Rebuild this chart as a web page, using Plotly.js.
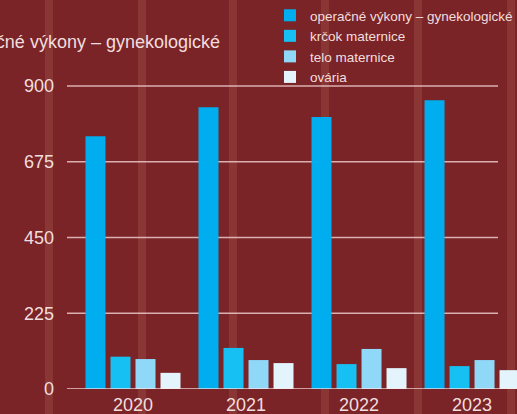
<!DOCTYPE html>
<html>
<head>
<meta charset="utf-8">
<script src="https://cdn.plot.ly/plotly-3.0.1.min.js"></script>
<style>
html,body{margin:0;padding:0;overflow:hidden;background:#7a2428;}
#chart{width:517px;height:414px;}
</style>
</head>
<body>
<div id="chart"></div>
<script>
const years = ['2020', '2021', '2022', '2023'];
const operacne = [751, 837, 808, 858];
const krcok = [96, 122, 74, 68];
const telo = [89, 86, 119, 86];
const ovaria = [48, 77, 62, 56];
const seriesNames = ['operačné výkony – gynekologické', 'krčok maternice', 'telo maternice', 'ovária'];
const seriesColors = ['#00aeef', '#17c0f3', '#8fd8f8', '#e4f4fc'];
const yTicks = [0, 225, 450, 675, 900];

const textColor = '#f1dede';
const font = 'Liberation Sans, Arial, Helvetica, sans-serif';

const seriesData = [operacne, krcok, telo, ovaria];
const traces = seriesData.map((vals, i) => ({
  type: 'bar',
  x: years,
  y: vals,
  name: seriesNames[i],
  marker: {color: seriesColors[i], line: {width: 0}},
  hoverinfo: 'x+y+name'
}));

// subtle vertical light bands from the photographic background
const bandCenters = [49, 142, 233, 325, 418, 511];
const plotL = 67, plotW = 450, gridEnd = 431 / 450;
const shapes = bandCenters.map(c => ({
  type: 'rect', layer: 'below', xref: 'paper', yref: 'paper',
  x0: (c - 4 - plotL) / plotW, x1: (c + 4 - plotL) / plotW,
  y0: -0.2, y1: 1.4,
  fillcolor: 'rgba(190,120,100,0.22)', line: {width: 0}
}));
// horizontal gridlines at the y tick values (stop short of the right edge as in the original)
yTicks.filter(v => v > 0).forEach(v => shapes.push({
  type: 'line', layer: 'below', xref: 'paper', yref: 'y',
  x0: 0, x1: gridEnd, y0: v, y1: v,
  line: {color: 'rgba(255,228,228,0.72)', width: 1.5}
}));
// baseline
shapes.push({
  type: 'line', layer: 'above', xref: 'paper', yref: 'y',
  x0: 0, x1: 1, y0: 0, y1: 0,
  line: {color: 'rgba(255,232,232,0.85)', width: 1.5}
});

const layout = {
  width: 517, height: 414, autosize: false,
  paper_bgcolor: '#7a2428', plot_bgcolor: 'rgba(0,0,0,0)',
  margin: {l: 67, r: 0, t: 83, b: 25, pad: 0, autoexpand: false},
  font: {family: font, color: textColor},
  title: {
    text: 'Operačné výkony – gynekologické',
    font: {family: font, size: 18, color: textColor},
    xref: 'container', yref: 'container',
    x: 220 / 517, xanchor: 'right',
    y: 1 - 42 / 414, yanchor: 'middle'
  },
  barmode: 'group',
  bargap: 0.115,
  bargroupgap: 0.2,
  showlegend: true,
  legend: {
    xref: 'container', yref: 'container',
    x: 270 / 517, xanchor: 'left',
    y: 1 - 0 / 414, yanchor: 'top',
    bgcolor: 'rgba(0,0,0,0)', borderwidth: 0,
    font: {family: font, size: 13.5, color: textColor},
    traceorder: 'normal'
  },
  xaxis: {
    type: 'category',
    range: [-0.584, 3.398],
    showgrid: false, zeroline: false, showline: false,
    ticks: '',
    ticklabelstandoff: 3,
    tickfont: {family: font, size: 18, color: textColor},
    fixedrange: true
  },
  yaxis: {
    range: [0, 909],
    tickvals: yTicks,
    ticktext: yTicks.map(String),
    showgrid: false,
    zeroline: false, showline: false,
    ticks: '',
    ticklabelstandoff: 12,
    tickfont: {family: font, size: 18, color: textColor},
    fixedrange: true
  },
  shapes: shapes
};

Plotly.newPlot('chart', traces, layout, {displayModeBar: false, staticPlot: true});
</script>
</body>
</html>
